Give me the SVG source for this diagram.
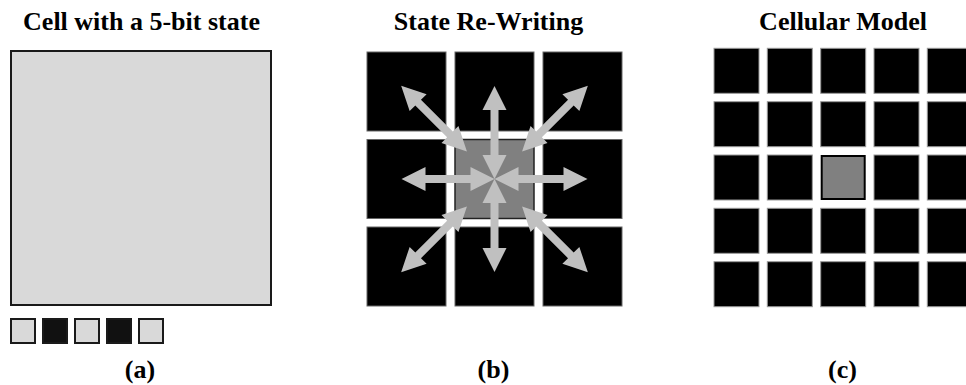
<svg xmlns="http://www.w3.org/2000/svg" xmlns:xlink="http://www.w3.org/1999/xlink" width="966" height="385" viewBox="0 0 966 385">
<style>
.t{font-family:"Liberation Serif","Times New Roman","DejaVu Serif",serif;font-weight:bold;font-size:26px;fill:#000;text-anchor:middle}
.lt{fill:#d9d9d9;stroke:#1a1a1a;stroke-width:2}
.dk{fill:#111;stroke:#1a1a1a;stroke-width:2}
.bc{fill:#000;stroke:#666;stroke-width:1}
.sc{fill:#000;stroke:#999;stroke-width:1}
.gc{fill:#808080;stroke:#222;stroke-width:1.5}
.gc2{fill:#808080;stroke:#000;stroke-width:2}
.arr{fill:#c0c0c0}
</style>
<defs>
<polygon id="a1" points="0,0 24,-12 24,-4 69,-4 69,-12 93,0 69,12 69,4 24,4 24,12"/>
</defs>
<rect width="966" height="385" fill="#fff"/>

<!-- Panel (a) -->
<text class="t" x="141.5" y="30" font-family="Liberation Serif, serif">Cell with a 5-bit state</text>
<g id="cell-a">
<rect class="lt" x="11" y="51" width="260" height="254"/>
</g>
<g id="bits">
<rect class="lt" x="11" y="319" width="24" height="24"/>
<rect class="dk" x="43" y="319" width="24" height="24"/>
<rect class="lt" x="75" y="319" width="24" height="24"/>
<rect class="dk" x="107" y="319" width="24" height="24"/>
<rect class="lt" x="139" y="319" width="24" height="24"/>
</g>
<text class="t" x="140" y="378">(a)</text>

<!-- Panel (b) -->
<text class="t" x="488.5" y="30">State Re-Writing</text>
<g id="grid-b">
<rect class="bc" x="367" y="52" width="79" height="79"/>
<rect class="bc" x="455" y="52" width="79" height="79"/>
<rect class="bc" x="543" y="52" width="79" height="79"/>
<rect class="bc" x="367" y="139.5" width="79" height="79"/>
<rect class="bc" x="543" y="139.5" width="79" height="79"/>
<rect class="bc" x="367" y="227" width="79" height="79"/>
<rect class="bc" x="455" y="227" width="79" height="79"/>
<rect class="bc" x="543" y="227" width="79" height="79"/>
</g>
<g id="center-b">
<rect class="gc" x="455" y="139.5" width="79" height="79"/>
</g>
<g id="connectors" class="arr">
<use xlink:href="#a1" href="#a1" transform="translate(494.5,179) rotate(0)"/>
<use xlink:href="#a1" href="#a1" transform="translate(494.5,179) rotate(90)"/>
<use xlink:href="#a1" href="#a1" transform="translate(494.5,179) rotate(180)"/>
<use xlink:href="#a1" href="#a1" transform="translate(494.5,179) rotate(-90)"/>
<use xlink:href="#a1" href="#a1" transform="translate(494.5,179) rotate(45) translate(39,0)"/>
<use xlink:href="#a1" href="#a1" transform="translate(494.5,179) rotate(135) translate(39,0)"/>
<use xlink:href="#a1" href="#a1" transform="translate(494.5,179) rotate(-135) translate(39,0)"/>
<use xlink:href="#a1" href="#a1" transform="translate(494.5,179) rotate(-45) translate(39,0)"/>
</g>
<text class="t" x="493.5" y="378">(b)</text>

<!-- Panel (c) -->
<text class="t" x="843" y="30">Cellular Model</text>
<g id="grid-c">
<rect class="sc" x="714" y="48.3" width="45" height="45"/>
<rect class="sc" x="767.3" y="48.3" width="45" height="45"/>
<rect class="sc" x="820.7" y="48.3" width="45" height="45"/>
<rect class="sc" x="874" y="48.3" width="45" height="45"/>
<rect class="sc" x="927.3" y="48.3" width="45" height="45"/>
<rect class="sc" x="714" y="101.7" width="45" height="45"/>
<rect class="sc" x="767.3" y="101.7" width="45" height="45"/>
<rect class="sc" x="820.7" y="101.7" width="45" height="45"/>
<rect class="sc" x="874" y="101.7" width="45" height="45"/>
<rect class="sc" x="927.3" y="101.7" width="45" height="45"/>
<rect class="sc" x="714" y="155" width="45" height="45"/>
<rect class="sc" x="767.3" y="155" width="45" height="45"/>
<rect class="sc" x="874" y="155" width="45" height="45"/>
<rect class="sc" x="927.3" y="155" width="45" height="45"/>
<rect class="sc" x="714" y="208.3" width="45" height="45"/>
<rect class="sc" x="767.3" y="208.3" width="45" height="45"/>
<rect class="sc" x="820.7" y="208.3" width="45" height="45"/>
<rect class="sc" x="874" y="208.3" width="45" height="45"/>
<rect class="sc" x="927.3" y="208.3" width="45" height="45"/>
<rect class="sc" x="714" y="261.7" width="45" height="45"/>
<rect class="sc" x="767.3" y="261.7" width="45" height="45"/>
<rect class="sc" x="820.7" y="261.7" width="45" height="45"/>
<rect class="sc" x="874" y="261.7" width="45" height="45"/>
<rect class="sc" x="927.3" y="261.7" width="45" height="45"/>
</g>
<g id="center-c">
<rect class="gc2" x="821.7" y="156" width="43" height="43"/>
</g>
<text class="t" x="842.5" y="378">(c)</text>
</svg>
